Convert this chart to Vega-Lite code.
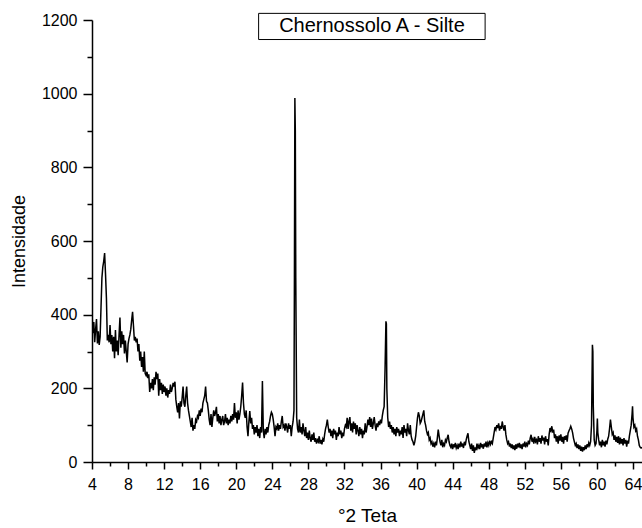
{
"$schema": "https://vega.github.io/schema/vega-lite/v6.json",
"width": 550, "height": 442,
"autosize": {"type": "none"},
"padding": {"left": 92, "top": 20, "right": 0, "bottom": 66},
"background": "white",
"config": {"view": {"stroke": null}, "font": "Liberation Sans"},
"datasets": {
"xrd": [
{"x":4.0,"y":405},{"x":4.1,"y":350},{"x":4.2,"y":380},{"x":4.3,"y":325},{"x":4.4,"y":360},{"x":4.5,"y":388},{"x":4.6,"y":322},{"x":4.7,"y":355},{"x":4.8,"y":318},{"x":4.9,"y":340},
{"x":5.0,"y":420},{"x":5.1,"y":500},{"x":5.2,"y":530},{"x":5.3,"y":545},{"x":5.4,"y":567},{"x":5.5,"y":510},{"x":5.6,"y":445},{"x":5.7,"y":330},{"x":5.8,"y":345},{"x":5.9,"y":325},
{"x":6.0,"y":372},{"x":6.1,"y":320},{"x":6.2,"y":345},{"x":6.3,"y":300},{"x":6.4,"y":340},{"x":6.5,"y":282},{"x":6.6,"y":358},{"x":6.7,"y":300},{"x":6.8,"y":330},{"x":6.9,"y":290},
{"x":7.0,"y":345},{"x":7.1,"y":392},{"x":7.2,"y":310},{"x":7.3,"y":355},{"x":7.4,"y":320},{"x":7.5,"y":345},{"x":7.6,"y":295},{"x":7.7,"y":330},{"x":7.8,"y":300},{"x":7.9,"y":270},
{"x":8.0,"y":320},{"x":8.1,"y":335},{"x":8.2,"y":345},{"x":8.3,"y":360},{"x":8.4,"y":385},{"x":8.5,"y":408},{"x":8.6,"y":370},{"x":8.7,"y":330},{"x":8.8,"y":340},{"x":8.9,"y":325},
{"x":9.0,"y":335},{"x":9.1,"y":300},{"x":9.2,"y":320},{"x":9.3,"y":275},{"x":9.4,"y":300},{"x":9.5,"y":258},{"x":9.6,"y":285},{"x":9.7,"y":245},{"x":9.8,"y":300},{"x":9.9,"y":240},
{"x":10.0,"y":235},{"x":10.1,"y":245},{"x":10.2,"y":228},{"x":10.3,"y":238},{"x":10.4,"y":190},{"x":10.5,"y":215},{"x":10.6,"y":200},{"x":10.7,"y":225},{"x":10.8,"y":195},{"x":10.9,"y":230},
{"x":11.0,"y":210},{"x":11.1,"y":245},{"x":11.2,"y":225},{"x":11.3,"y":240},{"x":11.4,"y":180},{"x":11.5,"y":225},{"x":11.6,"y":195},{"x":11.7,"y":215},{"x":11.8,"y":185},{"x":11.9,"y":210},
{"x":12.0,"y":190},{"x":12.1,"y":205},{"x":12.2,"y":180},{"x":12.3,"y":200},{"x":12.4,"y":175},{"x":12.5,"y":195},{"x":12.6,"y":185},{"x":12.7,"y":210},{"x":12.8,"y":190},{"x":12.9,"y":200},
{"x":13.0,"y":215},{"x":13.1,"y":205},{"x":13.2,"y":218},{"x":13.3,"y":170},{"x":13.4,"y":150},{"x":13.5,"y":135},{"x":13.6,"y":160},{"x":13.7,"y":118},{"x":13.8,"y":165},{"x":13.9,"y":150},
{"x":14.0,"y":175},{"x":14.1,"y":205},{"x":14.2,"y":160},{"x":14.3,"y":150},{"x":14.4,"y":180},{"x":14.5,"y":205},{"x":14.6,"y":160},{"x":14.7,"y":140},{"x":14.8,"y":125},{"x":14.9,"y":110},
{"x":15.0,"y":95},{"x":15.1,"y":120},{"x":15.2,"y":85},{"x":15.3,"y":100},{"x":15.4,"y":90},{"x":15.5,"y":115},{"x":15.6,"y":110},{"x":15.7,"y":125},{"x":15.8,"y":120},{"x":15.9,"y":140},
{"x":16.0,"y":125},{"x":16.1,"y":145},{"x":16.2,"y":135},{"x":16.3,"y":160},{"x":16.4,"y":170},{"x":16.5,"y":180},{"x":16.6,"y":205},{"x":16.7,"y":165},{"x":16.8,"y":160},{"x":16.9,"y":140},
{"x":17.0,"y":115},{"x":17.1,"y":100},{"x":17.2,"y":130},{"x":17.3,"y":95},{"x":17.4,"y":120},{"x":17.5,"y":140},{"x":17.6,"y":125},{"x":17.7,"y":135},{"x":17.8,"y":150},{"x":17.9,"y":110},
{"x":18.0,"y":130},{"x":18.1,"y":105},{"x":18.2,"y":125},{"x":18.3,"y":100},{"x":18.4,"y":115},{"x":18.5,"y":125},{"x":18.6,"y":100},{"x":18.7,"y":110},{"x":18.8,"y":130},{"x":18.9,"y":105},
{"x":19.0,"y":120},{"x":19.1,"y":100},{"x":19.2,"y":115},{"x":19.3,"y":105},{"x":19.4,"y":125},{"x":19.5,"y":110},{"x":19.6,"y":130},{"x":19.7,"y":115},{"x":19.8,"y":160},{"x":19.9,"y":120},
{"x":20.0,"y":135},{"x":20.1,"y":105},{"x":20.2,"y":140},{"x":20.3,"y":115},{"x":20.4,"y":130},{"x":20.5,"y":150},{"x":20.6,"y":180},{"x":20.7,"y":216},{"x":20.8,"y":160},{"x":20.9,"y":130},
{"x":21.0,"y":120},{"x":21.1,"y":140},{"x":21.2,"y":95},{"x":21.3,"y":70},{"x":21.4,"y":110},{"x":21.5,"y":138},{"x":21.6,"y":105},{"x":21.7,"y":120},{"x":21.8,"y":90},{"x":21.9,"y":100},
{"x":22.0,"y":75},{"x":22.1,"y":95},{"x":22.2,"y":80},{"x":22.3,"y":100},{"x":22.4,"y":70},{"x":22.5,"y":90},{"x":22.6,"y":65},{"x":22.7,"y":95},{"x":22.8,"y":80},{"x":22.85,"y":150},{"x":22.9,"y":220},{"x":22.95,"y":150},{"x":23.0,"y":85},
{"x":23.1,"y":65},{"x":23.2,"y":90},{"x":23.3,"y":75},{"x":23.4,"y":95},{"x":23.5,"y":80},{"x":23.6,"y":100},{"x":23.7,"y":110},{"x":23.8,"y":125},{"x":23.9,"y":135},{"x":24.0,"y":130},
{"x":24.1,"y":115},{"x":24.2,"y":95},{"x":24.3,"y":70},{"x":24.4,"y":95},{"x":24.5,"y":90},{"x":24.6,"y":105},{"x":24.7,"y":85},{"x":24.8,"y":100},{"x":24.9,"y":90},{"x":25.0,"y":110},
{"x":25.1,"y":125},{"x":25.2,"y":95},{"x":25.3,"y":100},{"x":25.4,"y":85},{"x":25.5,"y":105},{"x":25.6,"y":95},{"x":25.7,"y":80},{"x":25.8,"y":105},{"x":25.9,"y":90},{"x":26.0,"y":100},
{"x":26.1,"y":70},{"x":26.2,"y":95},{"x":26.3,"y":110},{"x":26.4,"y":140},{"x":26.45,"y":500},{"x":26.5,"y":988},{"x":26.55,"y":900},{"x":26.6,"y":500},{"x":26.7,"y":120},{"x":26.8,"y":90},{"x":26.9,"y":80},
{"x":27.0,"y":115},{"x":27.1,"y":80},{"x":27.2,"y":95},{"x":27.3,"y":75},{"x":27.4,"y":105},{"x":27.5,"y":85},{"x":27.6,"y":70},{"x":27.7,"y":95},{"x":27.8,"y":65},{"x":27.9,"y":80},
{"x":28.0,"y":60},{"x":28.1,"y":85},{"x":28.2,"y":65},{"x":28.3,"y":55},{"x":28.4,"y":75},{"x":28.5,"y":60},{"x":28.6,"y":80},{"x":28.7,"y":55},{"x":28.8,"y":65},{"x":28.9,"y":50},
{"x":29.0,"y":60},{"x":29.1,"y":55},{"x":29.2,"y":70},{"x":29.3,"y":50},{"x":29.4,"y":60},{"x":29.5,"y":48},{"x":29.6,"y":62},{"x":29.7,"y":55},{"x":29.8,"y":75},{"x":29.9,"y":90},
{"x":30.0,"y":100},{"x":30.1,"y":115},{"x":30.2,"y":95},{"x":30.3,"y":80},{"x":30.4,"y":90},{"x":30.5,"y":70},{"x":30.6,"y":85},{"x":30.7,"y":65},{"x":30.8,"y":90},{"x":30.9,"y":75},
{"x":31.0,"y":85},{"x":31.1,"y":60},{"x":31.2,"y":80},{"x":31.3,"y":70},{"x":31.4,"y":95},{"x":31.5,"y":75},{"x":31.6,"y":85},{"x":31.7,"y":65},{"x":31.8,"y":80},{"x":31.9,"y":70},
{"x":32.0,"y":90},{"x":32.1,"y":100},{"x":32.2,"y":95},{"x":32.3,"y":120},{"x":32.4,"y":90},{"x":32.5,"y":110},{"x":32.6,"y":122},{"x":32.7,"y":85},{"x":32.8,"y":105},{"x":32.9,"y":80},
{"x":33.0,"y":110},{"x":33.1,"y":90},{"x":33.2,"y":105},{"x":33.3,"y":75},{"x":33.4,"y":100},{"x":33.5,"y":85},{"x":33.6,"y":70},{"x":33.7,"y":95},{"x":33.8,"y":75},{"x":33.9,"y":90},
{"x":34.0,"y":65},{"x":34.1,"y":85},{"x":34.2,"y":75},{"x":34.3,"y":105},{"x":34.4,"y":80},{"x":34.5,"y":95},{"x":34.6,"y":115},{"x":34.7,"y":100},{"x":34.8,"y":122},{"x":34.9,"y":95},
{"x":35.0,"y":118},{"x":35.1,"y":90},{"x":35.2,"y":105},{"x":35.3,"y":122},{"x":35.4,"y":100},{"x":35.5,"y":85},{"x":35.6,"y":105},{"x":35.7,"y":95},{"x":35.8,"y":110},{"x":35.9,"y":100},
{"x":36.0,"y":115},{"x":36.1,"y":105},{"x":36.2,"y":125},{"x":36.3,"y":140},{"x":36.4,"y":150},{"x":36.5,"y":250},{"x":36.6,"y":382},{"x":36.65,"y":375},{"x":36.7,"y":200},{"x":36.8,"y":120},{"x":36.9,"y":95},
{"x":37.0,"y":110},{"x":37.1,"y":90},{"x":37.2,"y":100},{"x":37.3,"y":80},{"x":37.4,"y":95},{"x":37.5,"y":75},{"x":37.6,"y":90},{"x":37.7,"y":70},{"x":37.8,"y":95},{"x":37.9,"y":80},
{"x":38.0,"y":90},{"x":38.1,"y":70},{"x":38.2,"y":85},{"x":38.3,"y":75},{"x":38.4,"y":95},{"x":38.5,"y":65},{"x":38.6,"y":100},{"x":38.7,"y":80},{"x":38.8,"y":90},{"x":38.9,"y":70},
{"x":39.0,"y":105},{"x":39.1,"y":85},{"x":39.2,"y":75},{"x":39.3,"y":100},{"x":39.4,"y":70},{"x":39.5,"y":60},{"x":39.6,"y":55},{"x":39.7,"y":45},{"x":39.8,"y":55},{"x":39.9,"y":70},
{"x":40.0,"y":95},{"x":40.1,"y":120},{"x":40.2,"y":135},{"x":40.3,"y":125},{"x":40.4,"y":105},{"x":40.5,"y":110},{"x":40.6,"y":120},{"x":40.7,"y":130},{"x":40.8,"y":140},{"x":40.9,"y":110},
{"x":41.0,"y":100},{"x":41.1,"y":85},{"x":41.2,"y":75},{"x":41.3,"y":80},{"x":41.4,"y":60},{"x":41.5,"y":65},{"x":41.6,"y":50},{"x":41.7,"y":55},{"x":41.8,"y":42},{"x":41.9,"y":50},
{"x":42.0,"y":40},{"x":42.1,"y":55},{"x":42.2,"y":45},{"x":42.3,"y":65},{"x":42.4,"y":88},{"x":42.5,"y":70},{"x":42.6,"y":55},{"x":42.7,"y":45},{"x":42.8,"y":60},{"x":42.9,"y":40},
{"x":43.0,"y":50},{"x":43.1,"y":45},{"x":43.2,"y":60},{"x":43.3,"y":55},{"x":43.4,"y":65},{"x":43.5,"y":74},{"x":43.6,"y":55},{"x":43.7,"y":45},{"x":43.8,"y":40},{"x":43.9,"y":50},
{"x":44.0,"y":35},{"x":44.1,"y":48},{"x":44.2,"y":40},{"x":44.3,"y":52},{"x":44.4,"y":38},{"x":44.5,"y":45},{"x":44.6,"y":35},{"x":44.7,"y":50},{"x":44.8,"y":40},{"x":44.9,"y":55},
{"x":45.0,"y":42},{"x":45.1,"y":50},{"x":45.2,"y":38},{"x":45.3,"y":55},{"x":45.4,"y":45},{"x":45.5,"y":60},{"x":45.6,"y":70},{"x":45.7,"y":78},{"x":45.8,"y":55},{"x":45.9,"y":45},
{"x":46.0,"y":35},{"x":46.1,"y":50},{"x":46.2,"y":30},{"x":46.3,"y":45},{"x":46.4,"y":25},{"x":46.5,"y":40},{"x":46.6,"y":32},{"x":46.7,"y":50},{"x":46.8,"y":38},{"x":46.9,"y":45},
{"x":47.0,"y":35},{"x":47.1,"y":52},{"x":47.2,"y":40},{"x":47.3,"y":48},{"x":47.4,"y":36},{"x":47.5,"y":50},{"x":47.6,"y":42},{"x":47.7,"y":55},{"x":47.8,"y":40},{"x":47.9,"y":52},
{"x":48.0,"y":45},{"x":48.1,"y":58},{"x":48.2,"y":48},{"x":48.3,"y":55},{"x":48.4,"y":50},{"x":48.5,"y":65},{"x":48.6,"y":80},{"x":48.7,"y":95},{"x":48.8,"y":88},{"x":48.9,"y":100},
{"x":49.0,"y":92},{"x":49.1,"y":105},{"x":49.2,"y":85},{"x":49.3,"y":98},{"x":49.4,"y":90},{"x":49.5,"y":110},{"x":49.6,"y":95},{"x":49.7,"y":85},{"x":49.8,"y":100},{"x":49.9,"y":75},
{"x":50.0,"y":60},{"x":50.1,"y":50},{"x":50.2,"y":55},{"x":50.3,"y":42},{"x":50.4,"y":50},{"x":50.5,"y":38},{"x":50.6,"y":48},{"x":50.7,"y":35},{"x":50.8,"y":45},{"x":50.9,"y":32},
{"x":51.0,"y":48},{"x":51.1,"y":36},{"x":51.2,"y":50},{"x":51.3,"y":40},{"x":51.4,"y":52},{"x":51.5,"y":38},{"x":51.6,"y":48},{"x":51.7,"y":35},{"x":51.8,"y":50},{"x":51.9,"y":42},
{"x":52.0,"y":55},{"x":52.1,"y":40},{"x":52.2,"y":50},{"x":52.3,"y":45},{"x":52.4,"y":58},{"x":52.5,"y":48},{"x":52.6,"y":65},{"x":52.7,"y":74},{"x":52.8,"y":55},{"x":52.9,"y":62},
{"x":53.0,"y":50},{"x":53.1,"y":68},{"x":53.2,"y":55},{"x":53.3,"y":60},{"x":53.4,"y":48},{"x":53.5,"y":70},{"x":53.6,"y":55},{"x":53.7,"y":65},{"x":53.8,"y":50},{"x":53.9,"y":72},
{"x":54.0,"y":58},{"x":54.1,"y":66},{"x":54.2,"y":48},{"x":54.3,"y":70},{"x":54.4,"y":55},{"x":54.5,"y":62},{"x":54.6,"y":45},{"x":54.7,"y":75},{"x":54.8,"y":92},{"x":54.9,"y":85},
{"x":55.0,"y":97},{"x":55.1,"y":80},{"x":55.2,"y":88},{"x":55.3,"y":65},{"x":55.4,"y":75},{"x":55.5,"y":55},{"x":55.6,"y":70},{"x":55.7,"y":50},{"x":55.8,"y":72},{"x":55.9,"y":58},
{"x":56.0,"y":75},{"x":56.1,"y":55},{"x":56.2,"y":68},{"x":56.3,"y":50},{"x":56.4,"y":70},{"x":56.5,"y":60},{"x":56.6,"y":72},{"x":56.7,"y":55},{"x":56.8,"y":78},{"x":56.9,"y":85},
{"x":57.0,"y":90},{"x":57.1,"y":97},{"x":57.2,"y":90},{"x":57.3,"y":80},{"x":57.4,"y":65},{"x":57.5,"y":55},{"x":57.6,"y":45},{"x":57.7,"y":50},{"x":57.8,"y":38},{"x":57.9,"y":48},
{"x":58.0,"y":35},{"x":58.1,"y":45},{"x":58.2,"y":30},{"x":58.3,"y":42},{"x":58.4,"y":28},{"x":58.5,"y":40},{"x":58.6,"y":32},{"x":58.7,"y":45},{"x":58.8,"y":35},{"x":58.9,"y":48},
{"x":59.0,"y":40},{"x":59.1,"y":52},{"x":59.2,"y":45},{"x":59.3,"y":55},{"x":59.4,"y":100},{"x":59.5,"y":318},{"x":59.55,"y":300},{"x":59.6,"y":150},{"x":59.7,"y":60},{"x":59.8,"y":45},
{"x":59.9,"y":50},{"x":60.0,"y":85},{"x":60.05,"y":118},{"x":60.1,"y":80},{"x":60.2,"y":60},{"x":60.3,"y":45},{"x":60.4,"y":55},{"x":60.5,"y":40},{"x":60.6,"y":60},{"x":60.7,"y":45},{"x":60.8,"y":55},{"x":60.9,"y":42},
{"x":61.0,"y":58},{"x":61.1,"y":48},{"x":61.2,"y":62},{"x":61.3,"y":70},{"x":61.4,"y":90},{"x":61.5,"y":115},{"x":61.6,"y":95},{"x":61.7,"y":75},{"x":61.8,"y":80},{"x":61.9,"y":60},
{"x":62.0,"y":72},{"x":62.1,"y":55},{"x":62.2,"y":68},{"x":62.3,"y":52},{"x":62.4,"y":70},{"x":62.5,"y":48},{"x":62.6,"y":66},{"x":62.7,"y":50},{"x":62.8,"y":62},{"x":62.9,"y":45},
{"x":63.0,"y":65},{"x":63.1,"y":50},{"x":63.2,"y":60},{"x":63.3,"y":42},{"x":63.4,"y":58},{"x":63.5,"y":50},{"x":63.6,"y":70},{"x":63.7,"y":85},{"x":63.8,"y":100},{"x":63.9,"y":130},
{"x":63.95,"y":151},{"x":64.0,"y":120},{"x":64.1,"y":95},{"x":64.2,"y":100},{"x":64.3,"y":85},{"x":64.4,"y":90},{"x":64.5,"y":70},{"x":64.6,"y":60},{"x":64.7,"y":45},{"x":64.8,"y":40},{"x":64.9,"y":38},{"x":65.0,"y":40}
],
"note": [{"label": "Chernossolo A - Silte"}]
},
"layer": [
{
"data": {"name": "xrd"},
"mark": {"type": "line", "color": "black", "strokeWidth": 1.5, "clip": true},
"encoding": {
"x": {"field": "x", "type": "quantitative", "scale": {"domain": [4, 65], "nice": false, "zero": false},
"axis": {"title": "°2 Teta", "values": [4,6,8,10,12,14,16,18,20,22,24,26,28,30,32,34,36,38,40,42,44,46,48,50,52,54,56,58,60,62,64],
"tickCount": 200, "format": "d",
"labelExpr": "datum.value % 4 === 0 ? datum.label : ''",
"tickSize": {"condition": {"test": "datum.value % 4 === 0", "value": 7}, "value": 4},
"grid": false, "domainColor": "black", "domainWidth": 1.5, "tickColor": "black", "tickWidth": 1.5,
"labelFont": "Liberation Sans", "labelFontSize": 16, "labelColor": "black", "labelPadding": 7, "labelFlush": false, "labelOverlap": false,
"titleFont": "Liberation Sans", "titleFontSize": 19, "titleFontWeight": "normal", "titleColor": "black", "titlePadding": 14}},
"y": {"field": "y", "type": "quantitative", "scale": {"domain": [0, 1200], "nice": false},
"axis": {"title": "Intensidade", "values": [0,100,200,300,400,500,600,700,800,900,1000,1100,1200],
"tickCount": 200, "format": "d",
"labelExpr": "datum.value % 200 === 0 ? datum.label : ''",
"tickSize": {"condition": {"test": "datum.value % 200 === 0", "value": 9}, "value": 5},
"grid": false, "domainColor": "black", "domainWidth": 1.5, "tickColor": "black", "tickWidth": 1.5,
"labelFont": "Liberation Sans", "labelFontSize": 16, "labelColor": "black", "labelPadding": 6, "labelFlush": false, "labelOverlap": false,
"titleFont": "Liberation Sans", "titleFontSize": 18, "titleFontWeight": "normal", "titleColor": "black", "titlePadding": 13}}
}
},
{
"data": {"name": "note"},
"mark": {"type": "rect", "fill": "white", "stroke": "black", "strokeWidth": 1},
"encoding": {
"x": {"datum": 22.48, "type": "quantitative"},
"x2": {"datum": 47.6},
"y": {"datum": 1147, "type": "quantitative"},
"y2": {"datum": 1218}
}
},
{
"data": {"name": "note"},
"mark": {"type": "text", "font": "Liberation Sans", "fontSize": 20, "color": "black", "align": "center", "baseline": "middle"},
"encoding": {
"x": {"datum": 35.05, "type": "quantitative"},
"y": {"datum": 1183, "type": "quantitative"},
"text": {"field": "label"}
}
}
]
}
